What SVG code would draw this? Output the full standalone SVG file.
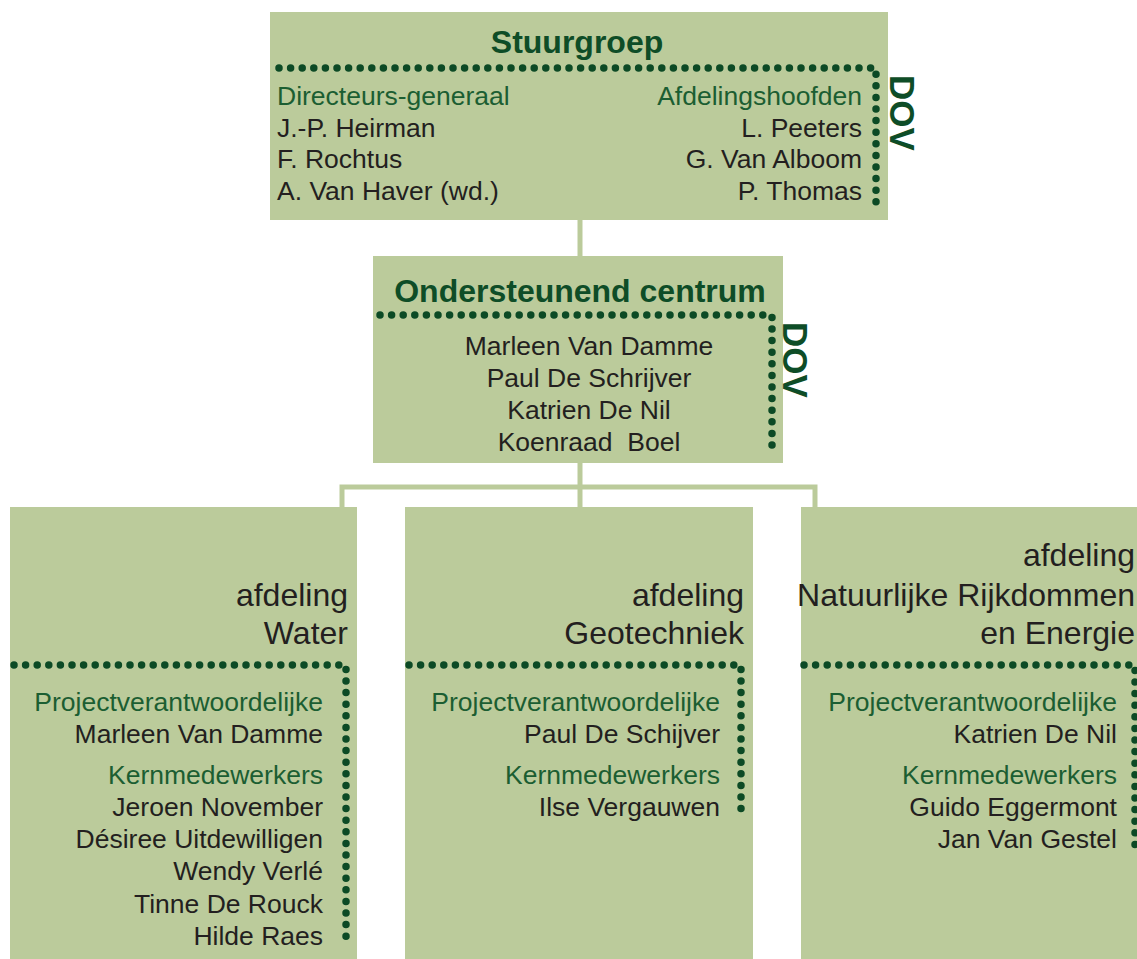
<svg xmlns="http://www.w3.org/2000/svg" width="1137" height="959" viewBox="0 0 1137 959">
<defs>
<style>
.box{fill:#bbcb9b}
.conn{stroke:#bbcb9b;stroke-width:5;fill:none}
.dots{stroke:#0c4a25;stroke-width:7.5;stroke-linecap:round;stroke-dasharray:0 11.6;fill:none}
text{font-family:"Liberation Sans",Arial,sans-serif}
.t{font-size:26.5px;fill:#231f20}
.g{font-size:26.5px;fill:#1b5e32}
.h{font-size:32px;font-weight:bold;fill:#0e4d27}
.big{font-size:32px;fill:#231f20}
.dov{font-size:35px;font-weight:bold;fill:#0e4d27}
.e{text-anchor:end}
.m{text-anchor:middle}
</style>
</defs>
<rect width="1137" height="959" fill="#ffffff"/>
<g id="connectors">
<path class="conn" d="M580,220 V256"/>
<path class="conn" d="M580,463 V507"/>
<path class="conn" d="M342,507 V487 H815 V507"/>
</g>
<g id="stuurgroep">
<rect class="box" x="270" y="12" width="618" height="208"/>
<text class="h m" x="577" y="53">Stuurgroep</text>
<path class="dots" d="M279,68 H876 V209"/>
<text class="g" x="277" y="105">Directeurs-generaal</text>
<text class="t" x="277" y="137">J.-P. Heirman</text>
<text class="t" x="277" y="168">F. Rochtus</text>
<text class="t" x="277" y="200">A. Van Haver (wd.)</text>
<text class="g e" x="862" y="105">Afdelingshoofden</text>
<text class="t e" x="862" y="137">L. Peeters</text>
<text class="t e" x="862" y="168">G. Van Alboom</text>
<text class="t e" x="862" y="200">P. Thomas</text>
<text class="dov" transform="translate(890,75) rotate(90)">DOV</text>
</g>
<g id="ondersteunend">
<rect class="box" x="373" y="256" width="410" height="207"/>
<text class="h m" x="580" y="302">Ondersteunend centrum</text>
<path class="dots" d="M380,315 H772 V454"/>
<text class="t m" x="589" y="355">Marleen Van Damme</text>
<text class="t m" x="589" y="387">Paul De Schrijver</text>
<text class="t m" x="589" y="419">Katrien De Nil</text>
<text class="t m" x="589" y="451" xml:space="preserve" style="white-space:pre">Koenraad  Boel</text>
<text class="dov" transform="translate(783,322) rotate(90)">DOV</text>
</g>
<g id="water">
<rect class="box" x="10" y="507" width="347" height="460"/>
<text class="big e" x="348" y="606">afdeling</text>
<text class="big e" x="348" y="644">Water</text>
<path class="dots" d="M14,665 H346 V947"/>
<text class="g e" x="323" y="711">Projectverantwoordelijke</text>
<text class="t e" x="323" y="743">Marleen Van Damme</text>
<text class="g e" x="323" y="784">Kernmedewerkers</text>
<text class="t e" x="323" y="816">Jeroen November</text>
<text class="t e" x="323" y="848">Désiree Uitdewilligen</text>
<text class="t e" x="323" y="880">Wendy Verlé</text>
<text class="t e" x="323" y="913">Tinne De Rouck</text>
<text class="t e" x="323" y="945">Hilde Raes</text>
</g>
<g id="geotechniek">
<rect class="box" x="405" y="507" width="348" height="460"/>
<text class="big e" x="744" y="606">afdeling</text>
<text class="big e" x="744" y="644">Geotechniek</text>
<path class="dots" d="M409,665 H741 V814"/>
<text class="g e" x="720" y="711">Projectverantwoordelijke</text>
<text class="t e" x="720" y="743">Paul De Schijver</text>
<text class="g e" x="720" y="784">Kernmedewerkers</text>
<text class="t e" x="720" y="816">Ilse Vergauwen</text>
</g>
<g id="natuurlijke-rijkdommen">
<rect class="box" x="801" y="507" width="350" height="460"/>
<text class="big e" x="1135" y="566">afdeling</text>
<text class="big e" x="1135" y="606">Natuurlijke Rijkdommen</text>
<text class="big e" x="1135" y="644">en Energie</text>
<path class="dots" d="M804,665 H1135 V850"/>
<text class="g e" x="1117" y="711">Projectverantwoordelijke</text>
<text class="t e" x="1117" y="743">Katrien De Nil</text>
<text class="g e" x="1117" y="784">Kernmedewerkers</text>
<text class="t e" x="1117" y="816">Guido Eggermont</text>
<text class="t e" x="1117" y="848">Jan Van Gestel</text>
</g>
</svg>
